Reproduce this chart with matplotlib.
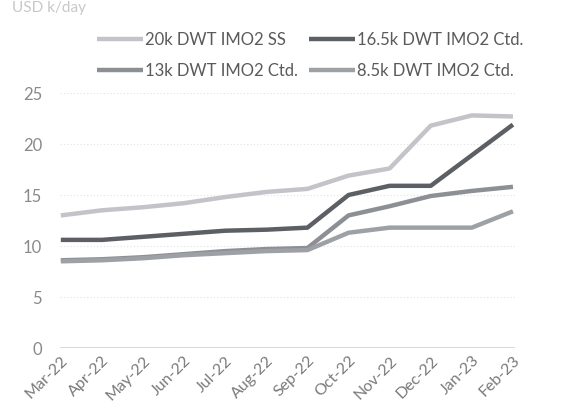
import matplotlib
matplotlib.use("Agg")
import matplotlib.pyplot as plt

months = ["Mar-22", "Apr-22", "May-22", "Jun-22", "Jul-22", "Aug-22",
          "Sep-22", "Oct-22", "Nov-22", "Dec-22", "Jan-23", "Feb-23"]
ss20 = [13.0, 13.5, 13.8, 14.2, 14.8, 15.3, 15.6, 16.9, 17.6, 21.8, 22.8, 22.7]
ctd165 = [10.6, 10.6, 10.9, 11.2, 11.5, 11.6, 11.8, 15.0, 15.9, 15.9, 18.9, 21.9]
ctd13 = [8.6, 8.7, 8.9, 9.2, 9.5, 9.7, 9.8, 13.0, 13.9, 14.9, 15.4, 15.8]
ctd85 = [8.5, 8.6, 8.8, 9.1, 9.3, 9.5, 9.6, 11.3, 11.8, 11.8, 11.8, 13.4]
names = ["20k DWT IMO2 SS", "16.5k DWT IMO2 Ctd.", "13k DWT IMO2 Ctd.", "8.5k DWT IMO2 Ctd."]
yticks = [0, 5, 10, 15, 20, 25]

plt.rcParams['font.family'] = ['Lato', 'DejaVu Sans']

fig = plt.figure(figsize=(5.78, 4.19), dpi=100)
ax = fig.add_axes([60/578, 1-348/419, 455/578, 255/419])

x = list(range(len(months)))
colors = ["#c3c3ca", "#5c5f64", "#8c9095", "#9da1a6"]
series = [ss20, ctd165, ctd13, ctd85]
handles = []
for s, c, n in zip(series, colors, names):
    h, = ax.plot(x, s, color=c, lw=3.2, label=n, solid_capstyle='butt')
    handles.append(h)

ax.set_ylim(0, 25)
ax.set_xlim(-0.02, 11.05)
ax.set_yticks(yticks)
for v in yticks[1:]:
    ax.axhline(v, color="#e2e2e2", lw=0.8, ls=(0, (1, 2)), zorder=0)
ax.axhline(0, color="#444444", lw=1.0, zorder=1)

for sp in ax.spines.values():
    sp.set_visible(False)
ax.tick_params(axis='both', length=0, colors="#7a7a7a", labelsize=12)
ax.tick_params(axis='x', labelsize=11.5, pad=4)
ax.tick_params(axis='y', pad=13, colors="#8a8a8a")
ax.set_xticks(x)
ax.set_xticklabels(months, rotation=45, ha='right', rotation_mode='anchor')

order = [0, 2, 1, 3]
leg = fig.legend(handles=[handles[i] for i in order], labels=[names[i] for i in order],
                 ncol=2, loc='upper left',
                 bbox_to_anchor=(97/578, 1-32/419), frameon=False, fontsize=12,
                 borderpad=0, borderaxespad=0,
                 handlelength=2.75, handletextpad=0.12, columnspacing=0.7,
                 labelspacing=0.9, labelcolor="#5a5a5a")

fig.text(12/578, 1-1/419, "USD k/day", fontsize=11, color="#c8c8c8", va='top', ha='left')

fig.savefig("out.png", dpi=100)
